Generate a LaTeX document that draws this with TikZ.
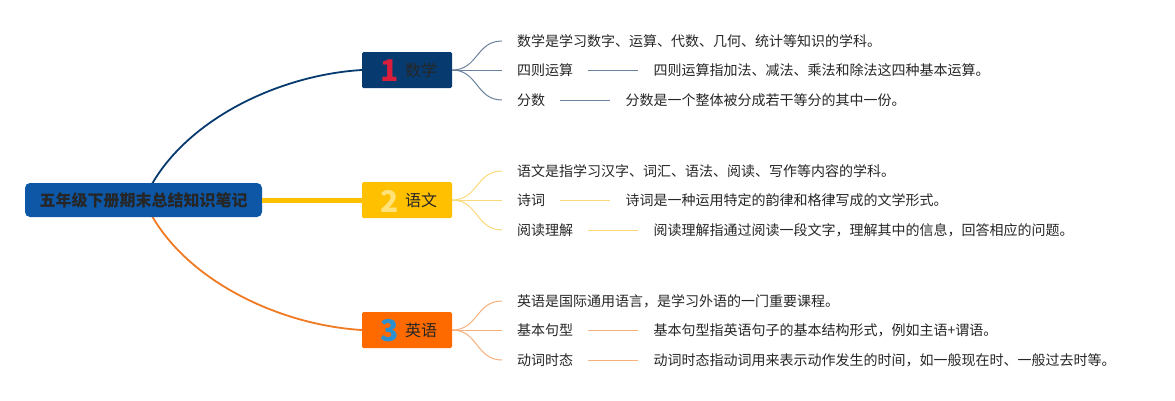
\documentclass[tikz,border=0pt]{standalone}
\usepackage{fontspec}
\setmainfont{Noto Sans CJK SC}
\newfontfamily\cjk{Noto Sans CJK SC}
\usetikzlibrary{positioning}
\definecolor{navy}{HTML}{073B6F}
\definecolor{navylt}{HTML}{6A819C}
\definecolor{rootblue}{HTML}{0D57A6}
\definecolor{yel}{HTML}{FFC000}
\definecolor{yellt}{HTML}{F9D978}
\definecolor{org}{HTML}{FF6A00}
\definecolor{orgmain}{HTML}{F07A22}
\definecolor{orglt}{HTML}{F5B07C}
\definecolor{numred}{HTML}{D81E3A}
\definecolor{numyel}{HTML}{FFE27A}
\definecolor{numblue}{HTML}{2C8FD0}
\definecolor{txt}{HTML}{262626}
\begin{document}
\begin{tikzpicture}[x=1pt,y=-1pt,
  rootbox/.style={fill=rootblue,rounded corners=5pt,minimum width=237pt,minimum height=34pt,inner sep=0pt,text=txt,font=\cjk\bfseries\fontsize{16}{18}\selectfont},
  subbox/.style={rounded corners=1.5pt,minimum width=90pt,minimum height=36pt,inner sep=0pt},
  numtxt/.style={font=\cjk\bfseries\fontsize{30}{32}\selectfont,inner sep=0pt},
  boxtxt/.style={font=\cjk\fontsize{16}{18}\selectfont,text=txt,inner sep=0pt},
  leaf/.style={anchor=west,font=\cjk\fontsize{14}{16}\selectfont,text=txt,inner sep=0pt},
  desc/.style={font=\cjk\fontsize{14}{16}\selectfont,text=txt,inner sep=0pt},
  link/.style={shorten <=15pt,shorten >=15pt,line width=1pt},
]
\useasboundingbox (0,0) rectangle (1175,400);
% main connectors
\coordinate (rtop) at (152,184);
\coordinate (rbot) at (152,216);
\node[subbox,fill=navy] (b1) at (407,70) {};
\node[subbox,fill=yel] (b2) at (407,200) {};
\node[subbox,fill=org] (b3) at (407,330) {};
\draw[navy,line width=1.8pt] (rtop) .. controls (190,118) and (280,75) .. (b1.west);
\draw[orgmain,line width=1.8pt] (rbot) .. controls (190,282) and (280,325) .. (b3.west);
\node[rootbox] (root) at (143.5,200) {五年级下册期末总结知识笔记};
\draw[yel,line width=5pt] (root.east) -- (b2.west);
% box contents
\node[numtxt,text=numred] (n1) at (390,71) {1};
\node[boxtxt] (t1) at (421,70) {数学};
\node[numtxt,text=numyel] (n2) at (390,201) {2};
\node[boxtxt] (t2) at (421,200) {语文};
\node[numtxt,text=numblue] (n3) at (390,331) {3};
\node[boxtxt] (t3) at (421,330) {英语};
% math leaves
\coordinate (m1) at (502,41);
\coordinate (m2) at (502,70);
\coordinate (m3) at (502,100);
\draw[navylt,line width=1pt] (b1.east) .. controls (478,70) and (476,41) .. (m1);
\draw[navylt,line width=1pt] (b1.east) -- (m2);
\draw[navylt,line width=1pt] (b1.east) .. controls (478,70) and (476,100) .. (m3);
\node[leaf] (ml1) at (517,41) {数学是学习数字、运算、代数、几何、统计等知识的学科。};
\node[leaf] (ml2) at (517,70) {四则运算};
\node[desc,anchor=west,right=80pt of ml2] (md2) {四则运算指加法、减法、乘法和除法这四种基本运算。};
\node[leaf] (ml3) at (517,100) {分数};
\node[desc,anchor=west,right=80pt of ml3] (md3) {分数是一个整体被分成若干等分的其中一份。};
\draw[navylt,link] (ml2.east) -- (md2.west);
\draw[navylt,link] (ml3.east) -- (md3.west);
% chinese leaves
\coordinate (c1) at (502,171);
\coordinate (c2) at (502,200);
\coordinate (c3) at (502,230);
\draw[yellt,line width=1pt] (b2.east) .. controls (478,200) and (476,171) .. (c1);
\draw[yellt,line width=1pt] (b2.east) -- (c2);
\draw[yellt,line width=1pt] (b2.east) .. controls (478,200) and (476,230) .. (c3);
\node[leaf] (cl1) at (517,171) {语文是指学习汉字、词汇、语法、阅读、写作等内容的学科。};
\node[leaf] (cl2) at (517,200) {诗词};
\node[desc,anchor=west,right=80pt of cl2] (cd2) {诗词是一种运用特定的韵律和格律写成的文学形式。};
\node[leaf] (cl3) at (517,230) {阅读理解};
\node[desc,anchor=west,right=80pt of cl3] (cd3) {阅读理解指通过阅读一段文字，理解其中的信息，回答相应的问题。};
\draw[yellt,link] (cl2.east) -- (cd2.west);
\draw[yellt,link] (cl3.east) -- (cd3.west);
% english leaves
\coordinate (e1) at (502,301);
\coordinate (e2) at (502,330);
\coordinate (e3) at (502,360);
\draw[orglt,line width=1pt] (b3.east) .. controls (478,330) and (476,301) .. (e1);
\draw[orglt,line width=1pt] (b3.east) -- (e2);
\draw[orglt,line width=1pt] (b3.east) .. controls (478,330) and (476,360) .. (e3);
\node[leaf] (el1) at (517,301) {英语是国际通用语言，是学习外语的一门重要课程。};
\node[leaf] (el2) at (517,330) {基本句型};
\node[desc,anchor=west,right=80pt of el2] (ed2) {基本句型指英语句子的基本结构形式，例如主语+谓语。};
\node[leaf] (el3) at (517,360) {动词时态};
\node[desc,anchor=west,right=80pt of el3] (ed3) {动词时态指动词用来表示动作发生的时间，如一般现在时、一般过去时等。};
\draw[orglt,link] (el2.east) -- (ed2.west);
\draw[orglt,link] (el3.east) -- (ed3.west);
\end{tikzpicture}
\end{document}
